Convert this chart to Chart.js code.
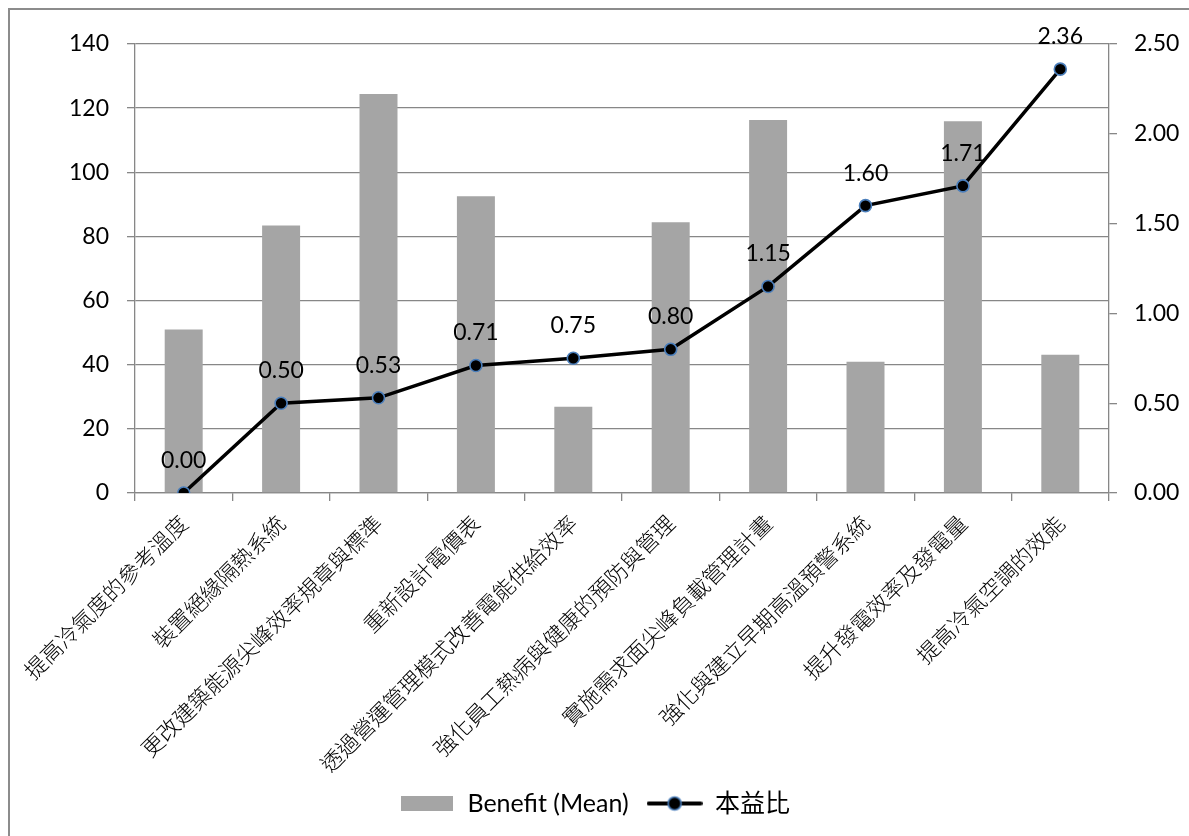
<!DOCTYPE html>
<html>
<head>
<meta charset="utf-8">
<title>本益比</title>
<script src="https://cdn.jsdelivr.net/npm/chart.js"></script>
<style>
html, body { margin: 0; padding: 0; background: #fff; }
#wrap { position: relative; width: 1189px; height: 836px; }
</style>
</head>
<body>
<div id="wrap"><canvas id="chart"></canvas></div>
<script>
const categories = [
  "提高冷氣度的參考溫度",
  "裝置絕緣隔熱系統",
  "更改建築能源尖峰效率規章與標準",
  "重新設計電價表",
  "透過營運管理模式改善電能供給效率",
  "強化員工熱病與健康的預防與管理",
  "實施需求面尖峰負載管理計畫",
  "強化與建立早期高溫預警系統",
  "提升發電效率及發電量",
  "提高冷氣空調的效能"
];
const benefitMean = [51, 83.4, 124.4, 92.5, 26.9, 84.4, 116.3, 40.9, 115.9, 43.1];
const ratio = [0.00, 0.50, 0.53, 0.71, 0.75, 0.80, 1.15, 1.60, 1.71, 2.36];

const gridColor = "#878787";
const numFont = { family: "Lato, 'Noto Sans', sans-serif", size: 23 };
const legendFont = { family: "Lato, 'Noto Sans CJK TC', sans-serif", size: 25 };
const cjkFont = { family: "'Noto Sans CJK TC', sans-serif", size: 22, weight: 300 };

// legend swatches
function makeBarSwatch() {
  const c = document.createElement("canvas");
  c.width = 52; c.height = 15;
  const g = c.getContext("2d");
  g.fillStyle = "#a5a5a5";
  g.fillRect(0, 0, 52, 15);
  return c;
}
function makeLineSwatch() {
  const c = document.createElement("canvas");
  c.width = 56; c.height = 18;
  const g = c.getContext("2d");
  g.strokeStyle = "#000";
  g.lineWidth = 4;
  g.lineCap = "round";
  g.beginPath(); g.moveTo(2, 9); g.lineTo(54, 9); g.stroke();
  g.beginPath(); g.arc(28, 9, 6.5, 0, Math.PI * 2);
  g.fillStyle = "#000"; g.fill();
  g.lineWidth = 1.6; g.strokeStyle = "#4a7ebb"; g.stroke();
  return c;
}
const swatches = [makeBarSwatch(), makeLineSwatch()];

const frame = {
  id: "frame",
  beforeDraw(chart) {
    const ctx = chart.ctx;
    ctx.save();
    ctx.strokeStyle = "#8c8c8c";
    ctx.lineWidth = 2;
    ctx.strokeRect(9, 9, 1400, 1000);
    ctx.restore();
  }
};

const pointLabels = {
  id: "pointLabels",
  afterDatasetsDraw(chart) {
    const ctx = chart.ctx;
    const meta = chart.getDatasetMeta(1);
    ctx.save();
    ctx.font = numFont.size + "px " + numFont.family;
    ctx.fillStyle = "#000";
    ctx.textAlign = "center";
    ctx.textBaseline = "alphabetic";
    meta.data.forEach((pt, i) => {
      ctx.fillText(ratio[i].toFixed(2), pt.x, pt.y - 25);
    });
    ctx.restore();
  }
};

const ctx = document.getElementById("chart").getContext("2d");
new Chart(ctx, {
  data: {
    labels: categories,
    datasets: [
      {
        type: "bar",
        label: "Benefit (Mean)",
        data: benefitMean,
        backgroundColor: "#a5a5a5",
        yAxisID: "y",
        categoryPercentage: 1,
        barPercentage: 0.39,
        order: 1
      },
      {
        type: "line",
        label: "本益比",
        data: ratio,
        yAxisID: "y1",
        borderColor: "#000",
        borderWidth: 3.5,
        pointRadius: 6,
        pointBackgroundColor: "#000",
        pointBorderColor: "#4a7ebb",
        pointBorderWidth: 1.6,
        tension: 0,
        order: 0
      }
    ]
  },
  options: {
    responsive: true,
    maintainAspectRatio: false,
    animation: false,
    layout: { padding: { left: 10, right: 10, top: 44, bottom: 10 } },
    plugins: {
      tooltip: { enabled: false },
      legend: {
        position: "bottom",
        labels: {
          color: "#000",
          font: legendFont,
          usePointStyle: true,
          pointStyleWidth: 56,
          padding: 18,
          generateLabels(chart) {
            const items = Chart.defaults.plugins.legend.labels.generateLabels(chart);
            items.sort((a, b) => a.datasetIndex - b.datasetIndex);
            items.forEach((it) => { it.pointStyle = swatches[it.datasetIndex]; });
            return items;
          }
        }
      }
    },
    scales: {
      x: {
        offset: true,
        grid: { offset: true, drawOnChartArea: false, drawTicks: true, tickLength: 8, color: gridColor, lineWidth: 1.3 },
        border: { color: gridColor, width: 1.3 },
        ticks: {
          autoSkip: false,
          minRotation: 45,
          maxRotation: 45,
          padding: 9,
          color: "#000",
          font: cjkFont
        },
        afterFit(scale) { scale.height = 280; }
      },
      y: {
        position: "left",
        min: 0,
        max: 140,
        grid: { color: gridColor, lineWidth: 1.3, tickLength: 8 },
        border: { color: gridColor, width: 1.3 },
        ticks: { stepSize: 20, padding: 18, color: "#000", font: numFont },
        afterFit(scale) { scale.width = 125; }
      },
      y1: {
        position: "right",
        min: 0,
        max: 2.5,
        grid: { drawOnChartArea: false, color: gridColor, lineWidth: 1.3, tickLength: 8 },
        border: { color: gridColor, width: 1.3 },
        ticks: {
          stepSize: 0.5,
          padding: 17,
          color: "#000",
          font: numFont,
          callback: (v) => Number(v).toFixed(2)
        },
        afterFit(scale) { scale.width = 70; }
      }
    }
  },
  plugins: [frame, pointLabels]
});
</script>
</body>
</html>
